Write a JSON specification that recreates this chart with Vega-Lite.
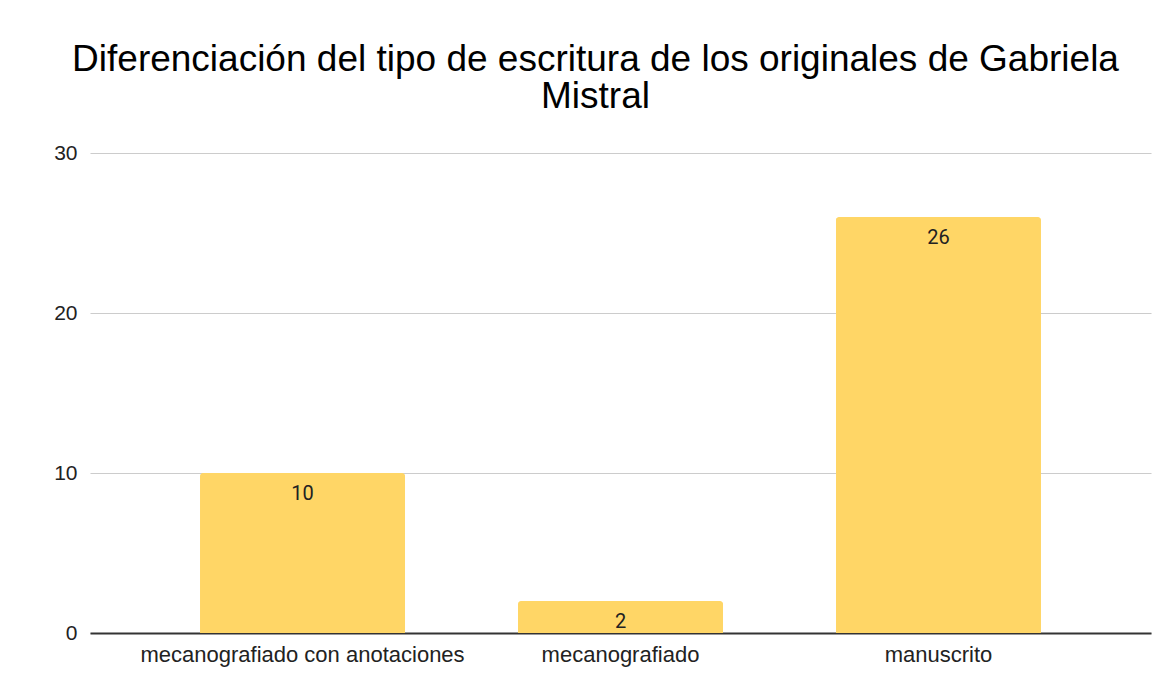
{
  "$schema": "https://vega.github.io/schema/vega-lite/v6.json",
  "width": 1061,
  "height": 480,
  "autosize": {"type": "none"},
  "padding": {"left": 90, "top": 153, "right": 25, "bottom": 65},
  "background": "white",
  "title": {
    "text": ["Diferenciación del tipo de escritura de los originales de Gabriela", "Mistral"],
    "font": "Liberation Sans",
    "fontSize": 37,
    "fontWeight": "normal",
    "color": "#000000",
    "anchor": "middle",
    "dx": -25,
    "lineHeight": 37,
    "offset": 26
  },
  "data": {
    "values": [
      {"tipo": "mecanografiado con anotaciones", "cantidad": 10},
      {"tipo": "mecanografiado", "cantidad": 2},
      {"tipo": "manuscrito", "cantidad": 26}
    ]
  },
  "encoding": {
    "x": {
      "field": "tipo",
      "type": "nominal",
      "sort": null,
      "title": null,
      "scale": {"paddingInner": 0.355, "paddingOuter": 0.346},
      "axis": {
        "labelAngle": 0,
        "labelFont": "Liberation Sans",
        "labelFontSize": 22,
        "labelLimit": 0,
        "labelColor": "#222222",
        "labelPadding": 11,
        "ticks": false,
        "domainColor": "#333333",
        "domainWidth": 2,
        "grid": false
      }
    },
    "y": {
      "field": "cantidad",
      "type": "quantitative",
      "title": null,
      "scale": {"domain": [0, 30]},
      "axis": {
        "values": [0, 10, 20, 30],
        "labelFont": "Liberation Sans",
        "labelFontSize": 21,
        "labelColor": "#222222",
        "labelPadding": 13,
        "ticks": false,
        "domain": false,
        "gridColor": "#cccccc",
        "gridWidth": 1.2
      }
    }
  },
  "layer": [
    {
      "mark": {"type": "bar", "color": "#ffd666", "cornerRadiusTopLeft": 3, "cornerRadiusTopRight": 3}
    },
    {
      "mark": {"type": "text", "baseline": "top", "dy": 11, "font": "Roboto", "fontSize": 20, "color": "#222222"},
      "encoding": {"text": {"field": "cantidad", "type": "quantitative"}}
    }
  ],
  "config": {"view": {"stroke": null}}
}
